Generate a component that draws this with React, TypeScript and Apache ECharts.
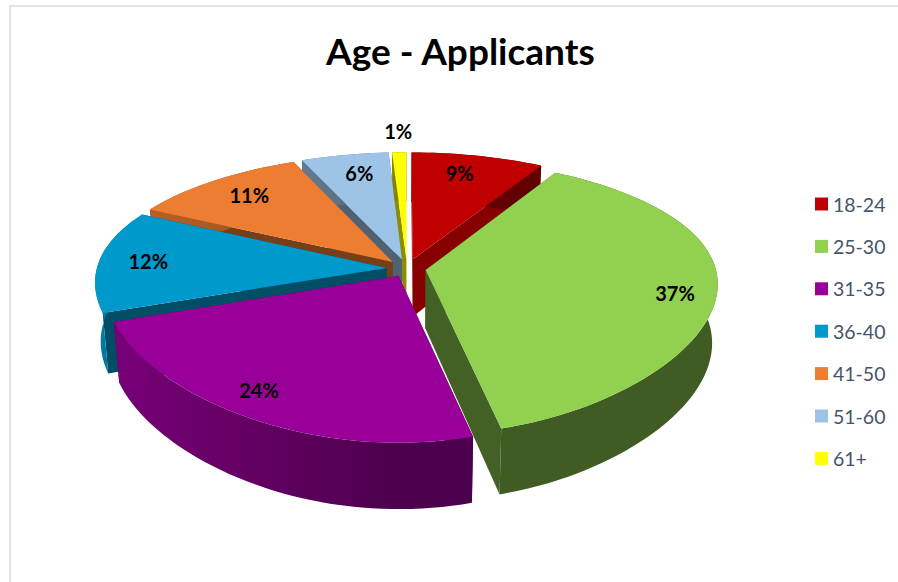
import React, { useEffect, useRef } from "react";
import * as echarts from "echarts";

const categories = ["18-24", "25-30", "31-35", "36-40", "41-50", "51-60", "61+"];
const shares = [9, 37, 24, 12, 11, 6, 1];
const colors = ["#c00000", "#92d050", "#990099", "#0099cc", "#ed7d31", "#9dc3e6", "#ffff00"];

// Layout of the tilted pie (not data)
const CX = 407;
const CY = 270;
const EXPLODE = [0.07, 0.065, 0.06, 0.07, 0.07, 0.07, 0.07];
const LABEL_RADIUS = [0.79, 0.86, 0.85, 0.83, 0.79, 0.785, 1.3];
const LABEL_TURN = [-2, 2, 4, 0, 0.5, 1.5, 0];
const DRAW_RANK = [1, 6, 7, 5, 4, 3, 2];
const CUT_SHADE = [0.7, 0.46, 0.5, 0.5, 0.5, 0.5, 0.55];
const WALL_BASE = [0.5, 0.44, 0.5, 0.5, 0.5, 0.5, 0.5];
const FONT = "Lato, Carlito, 'Open Sans', sans-serif";

const total = shares.reduce((a, b) => a + b, 0);
const rad = (share: number) => (share / total) * Math.PI * 2;

function project(px: number, v: number, drop = 0) {
  const x = px * (290 + 33 * v - 22 * v * v) * (1 - 0.018 * drop);
  const y = CY - 1.3 + 137.3 * v + 26.6 * v * v;
  return [CX + x, y + drop * (58 + 8 * v)];
}

function shade(hex: string, f: number) {
  const n = parseInt(hex.slice(1), 16);
  const c = (s: number) => Math.round(((n >> s) & 255) * f);
  return `rgb(${c(16)},${c(8)},${c(0)})`;
}

function poly(points: number[][], fill: any) {
  return {
    type: "polygon",
    shape: { points },
    style: { fill },
    silent: true,
  };
}

function renderSlice(index: number) {
  return (_params: any, api: any) => {
    const value = api.value(0);
    const start = rad(shares.slice(0, index).reduce((a, b) => a + b, 0));
    const end = start + rad(value);
    const mid = (start + end) / 2;
    const ox = EXPLODE[index] * Math.sin(mid);
    const ov = -EXPLODE[index] * Math.cos(mid);
    const at = (a: number, r = 1) => [ox + r * Math.sin(a), ov - r * Math.cos(a)];
    const steps = Math.max(2, Math.ceil((end - start) / (Math.PI / 90)));
    const arc: number[][] = [];
    const arcAngles: number[] = [];
    for (let i = 0; i <= steps; i++) {
      const a = start + ((end - start) * i) / steps;
      arcAngles.push(a);
      arc.push(at(a));
    }
    const tip = [ox, ov];
    const col = colors[index];
    const children: any[] = [];
    const cut = shade(col, CUT_SHADE[index]);
    const face = (a: number[], b: number[]) =>
      poly(
        [
          project(a[0], a[1]),
          project(b[0], b[1]),
          project(b[0], b[1], 1),
          project(a[0], a[1], 1),
        ],
        cut
      );
    children.push(face(tip, arc[0]));
    children.push(face(tip, arc[arc.length - 1]));

    // Outer wall: one polygon, shaded along x with a gradient
    const topEdge = arc.map((p) => project(p[0], p[1]));
    const botEdge = arc.map((p) => project(p[0], p[1], 1));
    const xs = topEdge.map((p) => p[0]);
    const minX = Math.min(...xs);
    const maxX = Math.max(...xs);
    const stops = topEdge
      .map((p, i) => ({
        offset: (p[0] - minX) / Math.max(1, maxX - minX),
        color: shade(col, WALL_BASE[index] + 0.3 * Math.max(0, -Math.sin(arcAngles[i]))),
      }))
      .sort((a, b) => a.offset - b.offset);
    children.push(
      poly(
        [...topEdge, ...botEdge.reverse()],
        new echarts.graphic.LinearGradient(minX, 0, maxX, 0, stops, true)
      )
    );

    const top = [tip, ...arc].map((p) => project(p[0], p[1]));
    children.push(poly(top, col));
    const lp = at(mid + (LABEL_TURN[index] * Math.PI) / 180, LABEL_RADIUS[index]);
    const [lx, ly] = project(lp[0], lp[1]);
    children.push({
      type: "text",
      x: lx,
      y: ly,
      silent: true,
      style: {
        text: `${value}%`,
        fill: "#000",
        font: `bold 20px ${FONT}`,
        textAlign: "center",
        textVerticalAlign: "middle",
      },
    });
    return { type: "group", children };
  };
}

export default function App() {
  const ref = useRef<HTMLDivElement>(null);
  useEffect(() => {
    const chart = echarts.init(ref.current!, undefined, { renderer: "svg" });
    chart.setOption({
      animation: false,
      backgroundColor: "#fff",
      title: {
        text: "Age - Applicants",
        left: 326,
        top: 32,
        padding: 0,
        textStyle: { fontFamily: FONT, fontWeight: "bold", fontSize: 37, color: "#000" },
      },
      legend: {
        data: categories,
        orient: "vertical",
        left: 815,
        top: 194,
        padding: 0,
        itemWidth: 13,
        itemHeight: 13,
        itemGap: 22.4,
        icon: "rect",
        selectedMode: false,
        textStyle: { fontFamily: FONT, fontSize: 19.5, color: "#44546a" },
      },
      graphic: [
        {
          type: "rect",
          silent: true,
          shape: { x: 10, y: 6, width: 1000, height: 1000 },
          style: { fill: "none", stroke: "#dfe3ea", lineWidth: 2 },
        },
      ],
      series: categories.map((name, i) => ({
        type: "custom",
        name,
        coordinateSystem: "none",
        z: 2 + DRAW_RANK[i],
        itemStyle: { color: colors[i] },
        data: [[shares[i]]],
        renderItem: renderSlice(i),
      })),
    });
    return () => chart.dispose();
  }, []);
  return <div ref={ref} style={{ position: "absolute", left: 0, top: 0, width: 898, height: 582 }} />;
}
